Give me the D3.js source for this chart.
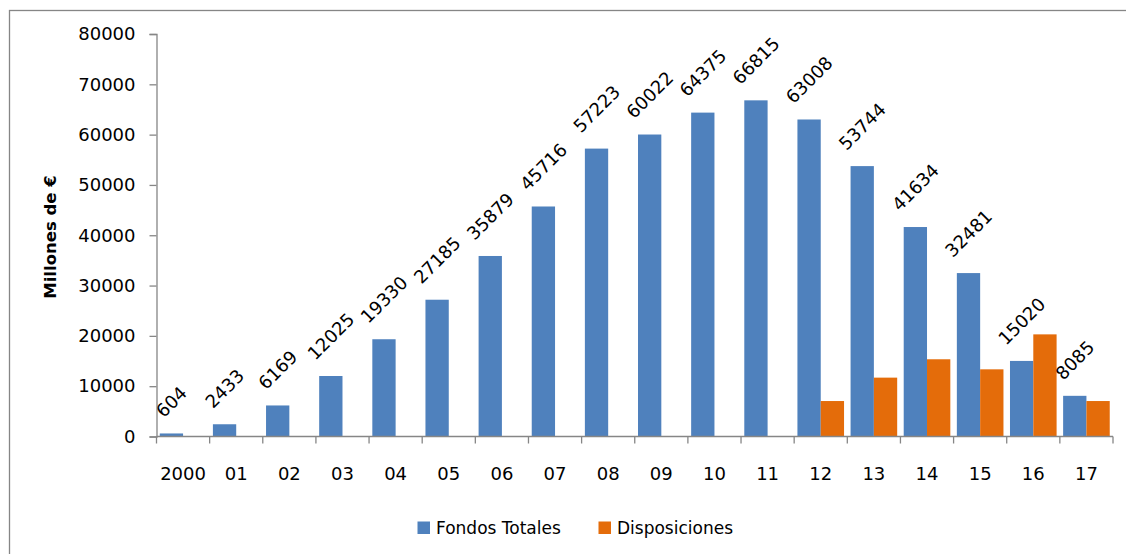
<!DOCTYPE html>
<html><head><meta charset="utf-8">
<script src="https://cdn.jsdelivr.net/npm/d3@7"></script>
<style>body{margin:0;background:#fff}svg{display:block}</style>
</head><body>
<svg id="c" width="1126" height="554"></svg>
<script>
const categories = ["2000","01","02","03","04","05","06","07","08","09","10","11","12","13","14","15","16","17"];
const fondosTotales = [604,2433,6169,12025,19330,27185,35879,45716,57223,60022,64375,66815,63008,53744,41634,32481,15020,8085];
const disposiciones = [0,0,0,0,0,0,0,0,0,0,0,0,7050,11700,15350,13350,20300,7050];
const yTicks = [0,10000,20000,30000,40000,50000,60000,70000,80000];
const seriesNames = ["Fondos Totales","Disposiciones"];
const colors = ["#4F81BD","#E46C0A"];

const svg = d3.select("#c");
const font = "DejaVu Sans, sans-serif";
const axisColor = "#868686";

// outer border
svg.append("rect").attr("x",9.5).attr("y",10.5).attr("width",1300).attr("height",700)
  .attr("fill","none").attr("stroke",axisColor).attr("stroke-width",1.3);

const x0 = d3.scaleBand().domain(categories).range([156.5,1113]).padding(0);
const x1 = d3.scaleBand().domain(seriesNames).range([0,x0.bandwidth()]).paddingInner(0).paddingOuter(0.14);
const y = d3.scaleLinear().domain([0,80000]).range([436.5,34]);

// y axis
const ya = svg.append("g").attr("transform","translate(156.5,0)")
  .call(d3.axisLeft(y).tickValues(yTicks).tickSize(7).tickPadding(14).tickFormat(d3.format("d")));
ya.select(".domain").attr("stroke",axisColor).attr("stroke-width",1.3);
ya.selectAll(".tick line").attr("stroke",axisColor).attr("stroke-width",1.3);
ya.selectAll(".tick text").attr("font-family",font).attr("font-size",18).attr("fill","#000");

// bars
const rows = categories.map((c,i)=>({c, vals:[fondosTotales[i],disposiciones[i]]}));
const g = svg.append("g");
rows.forEach(r=>{
  r.vals.forEach((v,j)=>{
    if(v<=0) return;
    g.append("rect")
      .attr("x",x0(r.c)+x1(seriesNames[j]))
      .attr("width",x1.bandwidth())
      .attr("y",y(v))
      .attr("height",y(0)-y(v))
      .attr("fill",colors[j]);
  });
});

// x axis
const xa = svg.append("g").attr("transform","translate(0,436.5)");
xa.append("line").attr("x1",156.5).attr("x2",1113).attr("stroke",axisColor).attr("stroke-width",1.3);
const bounds = categories.map(c=>x0(c)).concat([x0.range()[1]]);
xa.selectAll("line.t").data(bounds).enter().append("line")
  .attr("x1",d=>d).attr("x2",d=>d).attr("y1",0).attr("y2",7)
  .attr("stroke",axisColor).attr("stroke-width",1.3);
xa.selectAll("text").data(categories).enter().append("text")
  .attr("x",d=>x0(d)+x0.bandwidth()/2).attr("y",37)
  .attr("text-anchor","middle").attr("dominant-baseline","central")
  .attr("font-family",font).attr("font-size",18).text(d=>d);

// data labels for Fondos Totales
rows.forEach((r,i)=>{
  const v = r.vals[0];
  const cx = x0(r.c)+x1(seriesNames[0])+x1.bandwidth()/2;
  const t = svg.append("text")
    .attr("font-family",font).attr("font-size",18)
    .attr("text-anchor","middle").attr("dominant-baseline","central")
    .text(v);
  const w = t.node().getComputedTextLength();
  const cy = y(v) - (0.354*w + 19.5);
  t.attr("transform",`translate(${cx},${cy}) rotate(-45)`);
});

// y title
svg.append("text").attr("transform","translate(50,237) rotate(-90)")
  .attr("text-anchor","middle").attr("dominant-baseline","central")
  .attr("font-family",font).attr("font-weight","bold").attr("font-size",16.5)
  .text("Millones de €");

// legend
const leg = [{x:417.5, tx:436}, {x:598.5, tx:617}];
seriesNames.forEach((n,j)=>{
  svg.append("rect").attr("x",leg[j].x).attr("y",521.5).attr("width",12.5).attr("height",12.5).attr("fill",colors[j]);
  svg.append("text").attr("x",leg[j].tx).attr("y",528).attr("dominant-baseline","central")
    .attr("font-family",font).attr("font-size",17).text(n);
});
</script>
</body></html>
